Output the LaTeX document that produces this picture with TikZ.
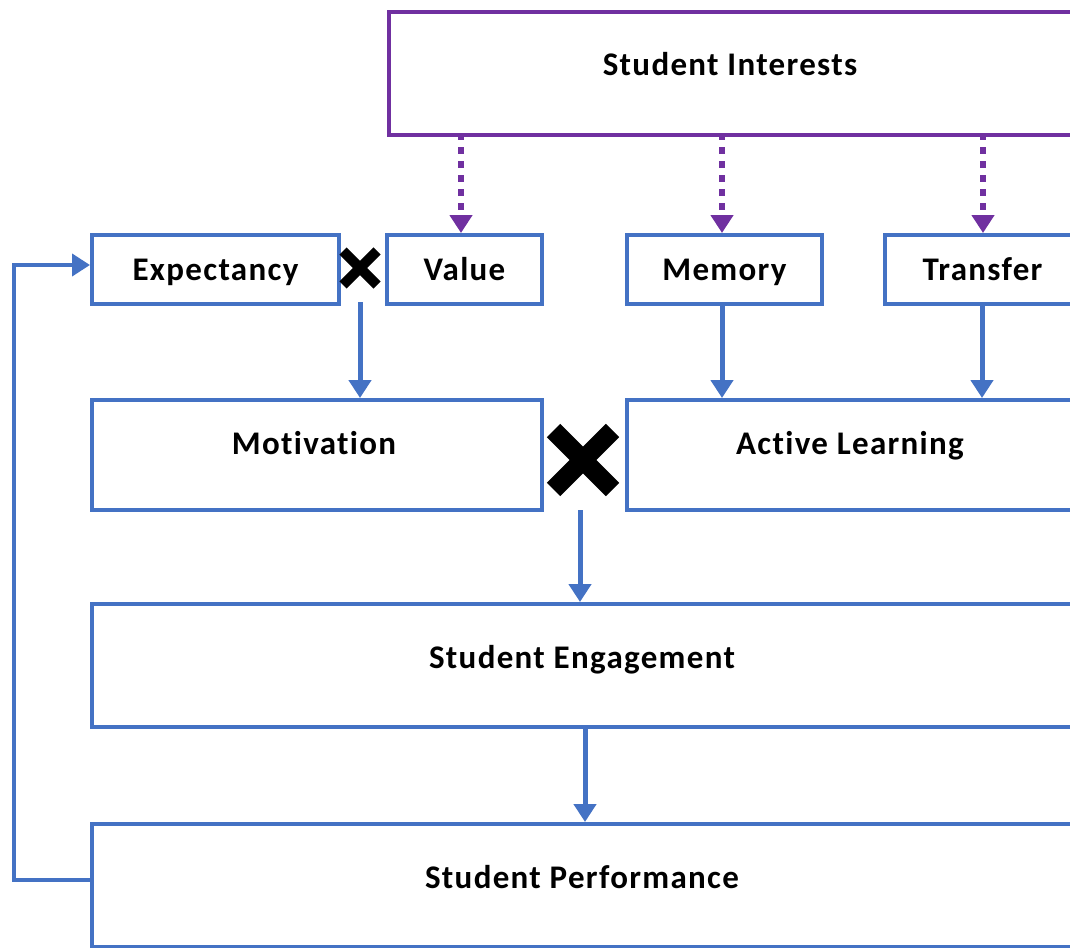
\documentclass[tikz,border=0pt]{standalone}
\usepackage{fontspec}
\setmainfont{Carlito}[LetterSpace=4,Ligatures=NoCommon]
\usepackage{tikz}
\usetikzlibrary{arrows.meta,positioning,calc,shapes.misc}
\definecolor{boxblue}{RGB}{68,114,196}
\definecolor{intpurple}{RGB}{112,48,160}

\tikzset{
    lbl/.style={font=\fontsize{33}{38}\selectfont\bfseries,text height=25pt,text depth=4pt,inner sep=0pt},
    blk/.style={lbl,draw=boxblue,line width=4pt},
    flow/.style={draw=boxblue,line width=5pt,-{Triangle[length=18pt,width=22pt]}},
    interest/.style={draw=intpurple,line width=6pt,dash pattern=on 7pt off 7pt,-{Triangle[length=18pt,width=22pt]}},
    times/.style={cross out,draw=black,line cap=butt,inner sep=0pt}
}

\begin{document}
\begin{tikzpicture}[x=1pt,y=-1pt]
        \clip (0,0) rectangle (1070,947);

        % Top box
        \node[blk,draw=intpurple,anchor=north west,minimum width=700pt,minimum height=123pt] (interests) at (387,10) {};
        \node[lbl] at (730,65) {Student Interests};

        % First row
        \node[blk,anchor=north west,minimum width=247pt,minimum height=69pt] (expect) at (90,233) {Expectancy};
        \node[blk,anchor=north west,minimum width=155pt,minimum height=69pt] (value) at (385,233) {Value};
        \node[blk,anchor=north west,minimum width=195pt,minimum height=69pt] (memory) at (625,233) {Memory};
        \node[blk,anchor=north west,minimum width=195pt,minimum height=69pt] (transfer) at (883,233) {Transfer};
        \node[times,line width=10pt,minimum size=24pt] (xsmall) at (360,268) {};

        % Second row
        \node[blk,anchor=north west,minimum width=450pt,minimum height=110pt] (motiv) at (90,398) {};
        \node[lbl] at (314,444) {Motivation};
        \node[blk,anchor=north west,minimum width=450pt,minimum height=110pt] (active) at (625,398) {};
        \node[lbl] at (850,444) {Active Learning};
        \node[times,line width=19pt,minimum size=40pt] (xbig) at (583,460) {};

        % Engagement and performance
        \node[blk,anchor=north west,minimum width=990pt,minimum height=123pt] (engage) at (90,602) {};
        \node[lbl] at (582,658) {Student Engagement};
        \node[blk,anchor=north west,minimum width=990pt,minimum height=123pt] (perform) at (90,822) {};
        \node[lbl] at (582,878) {Student Performance};

        % Interest links
        \draw[interest] (461,133) -- (value.north -| 461,0);
        \draw[interest] (722,133) -- (memory.north -| 722,0);
        \draw[interest] (983,133) -- (transfer.north -| 983,0);

        % Main flow
        \coordinate (evout) at (360,302);
        \draw[flow] (evout) -- (motiv.north -| evout);
        \draw[flow] (memory.south -| 722,0) -- (active.north -| 722,0);
        \draw[flow] (transfer.south -| 982,0) -- (active.north -| 982,0);
        \coordinate (xout) at (580,510);
        \draw[flow] (xout) -- (engage.north -| xout);
        \draw[flow] (engage.south -| 585,0) -- (perform.north -| 585,0);

        % Feedback loop
        \draw[flow,line width=4pt] (perform.west |- 0,880) -- (14,880) -- (14,265) -- (expect.west |- 0,265);
    \end{tikzpicture}
\end{document}
